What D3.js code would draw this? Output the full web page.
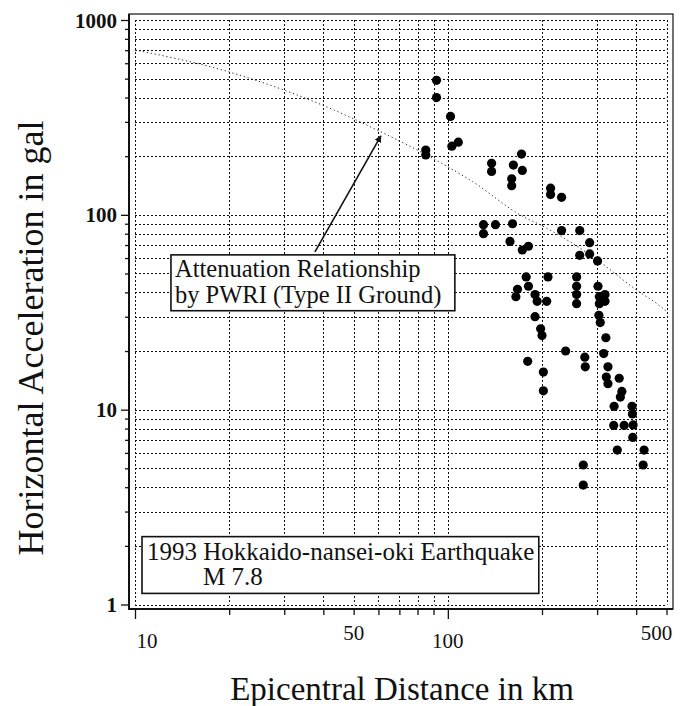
<!DOCTYPE html>
<html>
<head>
<meta charset="utf-8">
<script src="https://cdn.jsdelivr.net/npm/d3@7"></script>
<style>
  body { margin: 0; background: #fff; }
  svg text { font-family: "Liberation Serif", "Times New Roman", serif; fill: #111; }
</style>
</head>
<body>
<div id="chart"></div>
<script>
var distance = [
  92, 92, 102, 103, 108, 85, 85, 138, 138, 172, 162, 173, 160, 160, 213, 213, 231,
  130, 130, 142, 161, 158, 173, 181, 231, 264, 284, 264, 284, 301,
  178, 181, 209, 167, 165, 190, 193, 207, 258, 258, 258, 258, 302, 305, 305, 318, 318,
  190, 198, 200, 304, 307, 320, 238, 274, 275, 315, 180, 202, 202,
  325, 321, 325, 353, 360, 356, 340, 388, 389, 339, 366, 391, 390, 348, 424,
  271, 421, 271
]
var accel = [
  490, 400, 320, 225, 236, 215, 203, 184, 167, 205, 180, 169, 153, 141, 137, 127, 123,
  89, 80, 89, 90, 73, 66, 69, 83, 83, 72, 62, 63, 58,
  48, 43, 48, 41.5, 38, 39, 36, 36, 48, 43, 39, 35, 43, 38, 35, 39, 36,
  30, 26, 24, 30.5, 28, 23.4, 20, 18.6, 16.6, 19.4, 17.7, 15.6, 12.5,
  16.6, 14.7, 13.6, 14.5, 12.4, 11.6, 10.4, 10.4, 9.5, 8.3, 8.3, 8.35, 7.2, 6.2, 6.2,
  5.2, 5.2, 4.1
]

// attenuation relationship curve (PWRI, type II ground)
var pwriDistance = [10, 20, 41, 61, 83, 120, 174, 197, 299, 402, 466, 500]
var pwriAccel = [702, 541, 358, 267, 208, 148, 98, 89, 59, 41, 35, 32]

var xTickLabels = [10, 50, 100, 500]
var yTickLabels = [1, 10, 100, 1000]
var xMajor = [10, 100]
var yMajor = [1, 10, 100, 1000]

var width = 686
var height = 706

var x = d3.scaleLog().domain([10, 500]).range([135, 666.5])
var y = d3.scaleLog().domain([1, 1000]).range([604.5, 20])

var xGrid = [10, 20, 30, 40, 50, 60, 70, 80, 90, 100, 200, 300, 400, 500]
var yGrid = []
;[1, 10, 100].forEach(function(dec) {
  for (var k = 1; k < 10; k++) yGrid.push(dec * k)
})
yGrid.push(1000)

var svg = d3
  .select('#chart')
  .append('svg')
  .attr('width', width)
  .attr('height', height)

// grid
var grid = svg.append('g').attr('class', 'grid')
grid
  .selectAll('line.h')
  .data(yGrid)
  .enter()
  .append('line')
  .attr('class', 'h')
  .attr('x1', x(10))
  .attr('x2', x(500))
  .attr('y1', function(d) { return Math.round(y(d)) + 0.5 })
  .attr('y2', function(d) { return Math.round(y(d)) + 0.5 })
grid
  .selectAll('line.v')
  .data(xGrid)
  .enter()
  .append('line')
  .attr('class', 'v')
  .attr('x1', function(d) { return Math.round(x(d)) + 0.5 })
  .attr('x2', function(d) { return Math.round(x(d)) + 0.5 })
  .attr('y1', y(1000))
  .attr('y2', y(1))
grid
  .selectAll('line')
  .attr('stroke', '#111')
  .attr('stroke-width', 1)
  .attr('stroke-dasharray', '2,2')

// frame
svg
  .append('rect')
  .attr('x', 129)
  .attr('y', 14)
  .attr('width', 673 - 129)
  .attr('height', 609 - 14)
  .attr('fill', 'none')
  .attr('stroke', '#111')
  .attr('stroke-width', 1.2)
svg.append('line').attr('x1', 129).attr('x2', 129).attr('y1', 14).attr('y2', 610)
  .attr('stroke', '#111').attr('stroke-width', 2)
svg.append('line').attr('x1', 128).attr('x2', 673).attr('y1', 609).attr('y2', 609)
  .attr('stroke', '#111').attr('stroke-width', 2)

// y axis ticks
var yMinor = yGrid.filter(function(d) { return yMajor.indexOf(d) < 0 })
var yAxisMajor = d3.axisLeft(y).tickValues(yMajor).tickSize(8).tickPadding(4)
  .tickFormat(function(d) { return yTickLabels.indexOf(d) >= 0 ? d : '' })
var yAxisMinor = d3.axisLeft(y).tickValues(yMinor).tickSize(4).tickFormat('')

var gy = svg.append('g').attr('transform', 'translate(129,0)').call(yAxisMajor)
svg.append('g').attr('transform', 'translate(129,0)').call(yAxisMinor)
  .select('.domain').remove()
gy.select('.domain').remove()
gy.selectAll('text')
  .attr('font-size', '21px')
  .attr('font-weight', 'bold')
  .attr('dy', '0.34em')

// x axis ticks
var xMinor = xGrid.filter(function(d) { return xMajor.indexOf(d) < 0 })
var xAxisMajor = d3.axisBottom(x).tickValues(xMajor).tickSize(10).tickFormat('')
var xAxisMinor = d3.axisBottom(x).tickValues(xMinor).tickSize(6).tickFormat('')
svg.append('g').attr('transform', 'translate(0,609)').call(xAxisMajor)
  .select('.domain').remove()
svg.append('g').attr('transform', 'translate(0,609)').call(xAxisMinor)
  .select('.domain').remove()
svg.selectAll('.tick line').attr('stroke', '#111').attr('stroke-width', 1.3)

svg
  .selectAll('text.xlabel')
  .data(xTickLabels)
  .enter()
  .append('text')
  .attr('class', 'xlabel')
  .attr('x', function(d) {
    if (d === 10) return x(d) + 12
    if (d === 500) return x(d) - 10
    return x(d)
  })
  .attr('y', function(d) { return d === 50 || d === 500 ? 640 : 648 })
  .attr('text-anchor', 'middle')
  .attr('font-size', '21px')
  .text(function(d) { return d })

// attenuation curve
var line = d3
  .line()
  .x(function(d, i) { return x(pwriDistance[i]) })
  .y(function(d, i) { return y(pwriAccel[i]) })
  .curve(d3.curveMonotoneX)
svg
  .append('path')
  .datum(pwriDistance)
  .attr('d', line)
  .attr('fill', 'none')
  .attr('stroke', '#333')
  .attr('stroke-width', 1)
  .attr('stroke-dasharray', '1.3,2.7')

// observed points
svg
  .selectAll('circle.obs')
  .data(distance)
  .enter()
  .append('circle')
  .attr('class', 'obs')
  .attr('cx', function(d) { return x(d) })
  .attr('cy', function(d, i) { return y(accel[i]) })
  .attr('r', 4.6)
  .attr('fill', '#000')

// annotation: attenuation relationship label with arrow
var box1 = { x0: 13.03, x1: 105.3, y0: 62.3, y1: 32.2 }
svg
  .append('rect')
  .attr('x', x(box1.x0))
  .attr('y', y(box1.y0))
  .attr('width', x(box1.x1) - x(box1.x0))
  .attr('height', y(box1.y1) - y(box1.y0))
  .attr('fill', '#fff')
  .attr('stroke', '#111')
  .attr('stroke-width', 1.6)
svg.append('text')
  .attr('x', x(box1.x0) + 4)
  .attr('y', y(box1.y0) + 22)
  .attr('font-size', '24.5px')
  .text('Attenuation Relationship')
svg.append('text')
  .attr('x', x(box1.x0) + 4)
  .attr('y', y(box1.y0) + 48)
  .attr('font-size', '24.5px')
  .text('by PWRI (Type II Ground)')

svg.append('defs')
  .append('marker')
  .attr('id', 'arrow')
  .attr('viewBox', '0 0 10 10')
  .attr('refX', 9)
  .attr('refY', 5)
  .attr('markerWidth', 7)
  .attr('markerHeight', 7)
  .attr('markerUnits', 'userSpaceOnUse')
  .attr('orient', 'auto')
  .append('path')
  .attr('d', 'M0,0 L10,5 L0,10 z')
  .attr('fill', '#111')
svg.append('line')
  .attr('x1', x(37.6))
  .attr('y1', y(64.6))
  .attr('x2', x(61.1))
  .attr('y2', y(254))
  .attr('stroke', '#111')
  .attr('stroke-width', 1.6)
  .attr('marker-end', 'url(#arrow)')

// annotation: earthquake label
var box2 = { x0: 10.53, x1: 195.3, y0: 2.23, y1: 1.14 }
svg
  .append('rect')
  .attr('x', x(box2.x0))
  .attr('y', y(box2.y0))
  .attr('width', x(box2.x1) - x(box2.x0))
  .attr('height', y(box2.y1) - y(box2.y0))
  .attr('fill', '#fff')
  .attr('stroke', '#111')
  .attr('stroke-width', 1.6)
svg.append('text')
  .attr('x', x(box2.x0) + 5)
  .attr('y', y(box2.y0) + 23)
  .attr('font-size', '25px')
  .text('1993 Hokkaido-nansei-oki Earthquake')
svg.append('text')
  .attr('x', x(box2.x0) + 61)
  .attr('y', y(box2.y0) + 48)
  .attr('font-size', '25px')
  .text('M 7.8')

// axis titles
svg.append('text')
  .attr('x', 402)
  .attr('y', 700)
  .attr('text-anchor', 'middle')
  .attr('font-size', '33px')
  .text('Epicentral Distance in km')
svg.append('text')
  .attr('transform', 'translate(43,338) rotate(-90)')
  .attr('text-anchor', 'middle')
  .attr('font-size', '36px')
  .text('Horizontal Acceleration in gal')
</script>
</body>
</html>
